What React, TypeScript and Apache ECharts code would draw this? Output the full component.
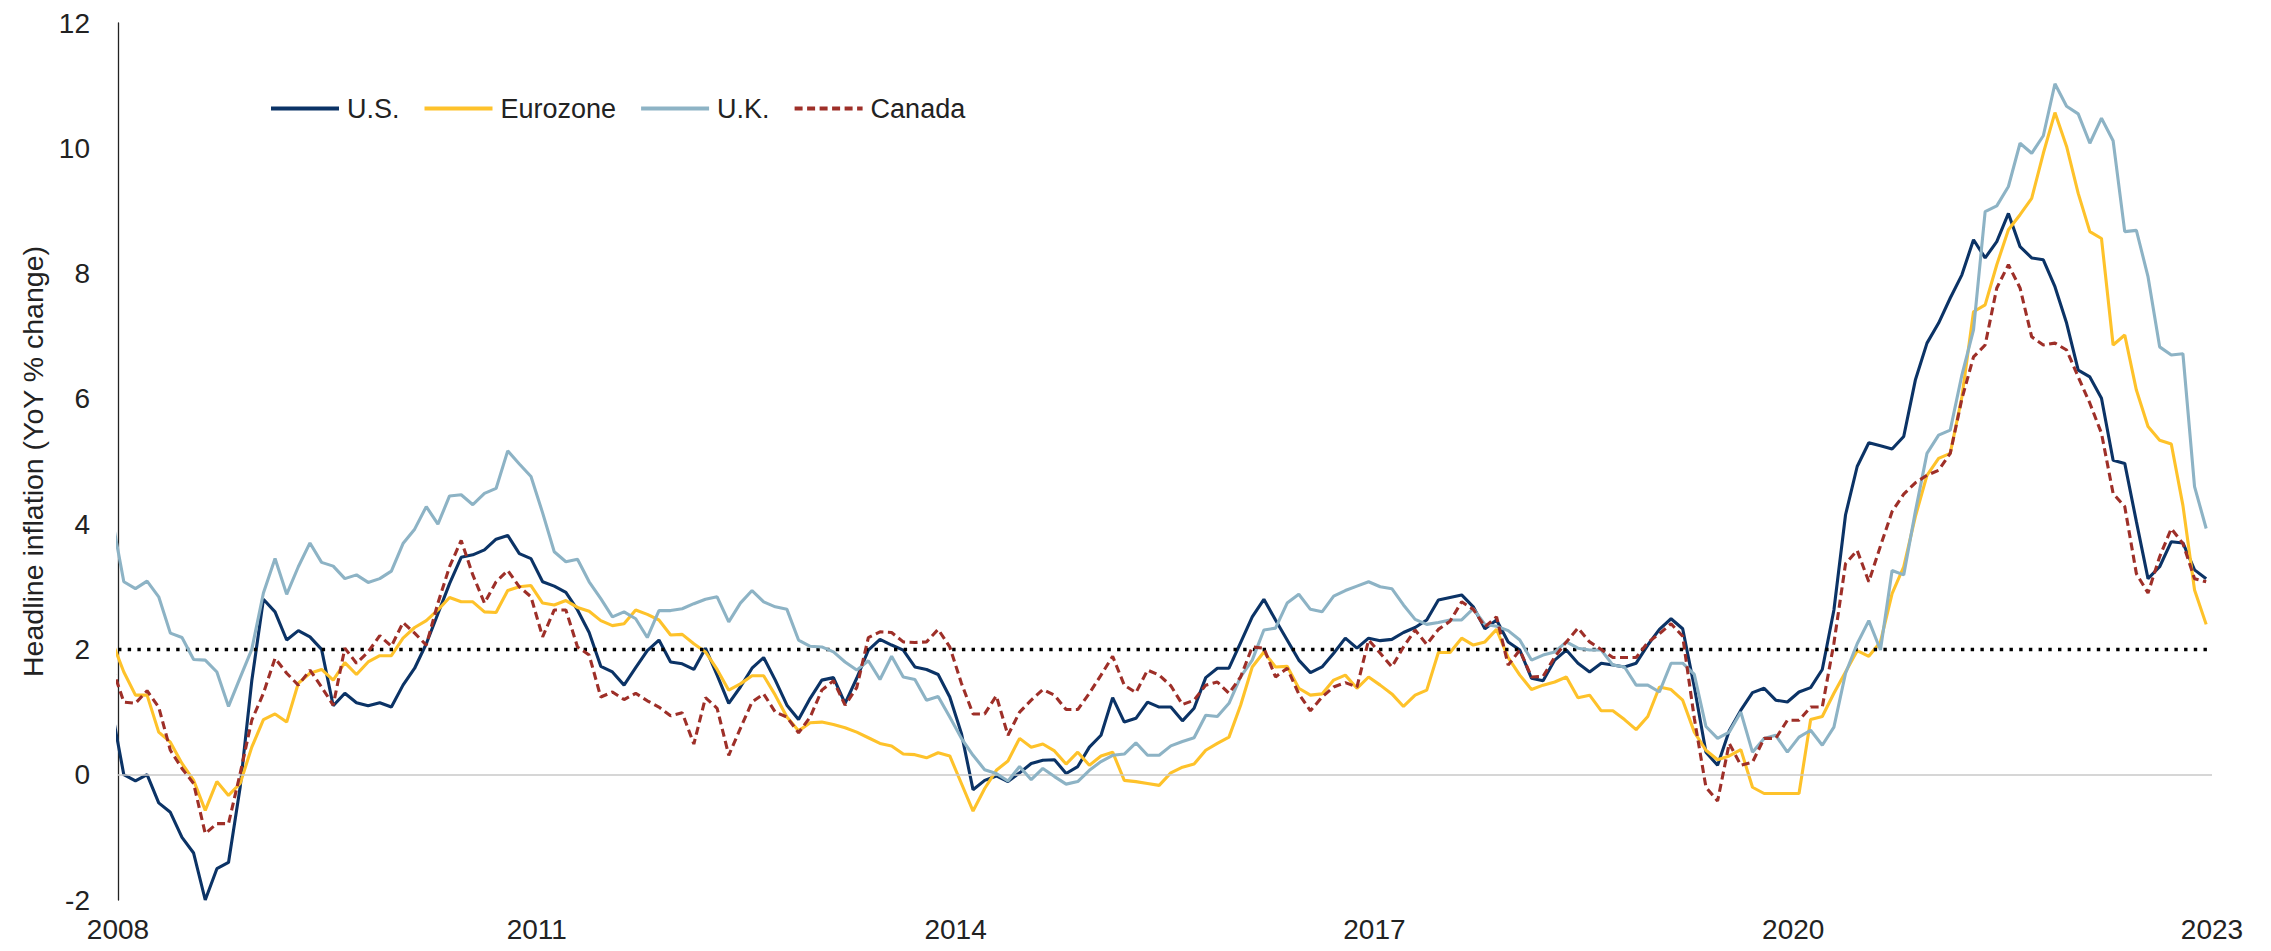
import React, { useEffect, useRef } from 'react';
import * as echarts from 'echarts';

// Month index: 0 = Nov 2008 (just left of the axis), 180 = Nov 2023
const yearTicks = ['2008', '2011', '2014', '2017', '2020', '2023'];
const monthsPerTick = 36;
const seriesNames = ['U.S.', 'Eurozone', 'U.K.', 'Canada'];
const targetRate = 2;

const usCPI = [
  1.0, 0.0,
  -0.1, 0.0, -0.45, -0.6, -1.0, -1.25, -2.0, -1.5, -1.4, -0.2, 1.5, 2.8,
  2.6, 2.15, 2.3, 2.2, 2.0, 1.1, 1.3, 1.15, 1.1, 1.15, 1.08, 1.43,
  1.7, 2.09, 2.57, 3.05, 3.47, 3.51, 3.59, 3.76, 3.82, 3.53, 3.45, 3.08,
  3.01, 2.91, 2.63, 2.27, 1.73, 1.64, 1.43, 1.71, 1.98, 2.15, 1.8, 1.77,
  1.68, 2.02, 1.59, 1.14, 1.4, 1.7, 1.87, 1.51, 1.11, 0.88, 1.22, 1.51,
  1.55, 1.14, 1.54, 1.99, 2.16, 2.07, 1.99, 1.72, 1.68, 1.6, 1.24, 0.66,
  -0.24, -0.09, -0.02, -0.11, 0.03, 0.18, 0.23, 0.24, 0.02, 0.13, 0.44, 0.63,
  1.23, 0.84, 0.9, 1.16, 1.08, 1.08, 0.86, 1.06, 1.55, 1.7, 1.7, 2.11,
  2.52, 2.8, 2.47, 2.15, 1.83, 1.63, 1.72, 1.94, 2.18, 2.02, 2.18, 2.14,
  2.16, 2.27, 2.35, 2.47, 2.79, 2.83, 2.87, 2.68, 2.33, 2.47, 2.12, 1.99,
  1.54, 1.5, 1.83, 1.99, 1.78, 1.64, 1.78, 1.75, 1.72, 1.78, 2.07, 2.32,
  2.49, 2.33, 1.4, 0.36, 0.15, 0.7, 1.03, 1.31, 1.38, 1.19, 1.16, 1.32,
  1.39, 1.68, 2.63, 4.15, 4.92, 5.3, 5.25, 5.2, 5.4, 6.3, 6.89, 7.21,
  7.61, 7.98, 8.54, 8.25, 8.51, 8.96, 8.43, 8.25, 8.22, 7.79, 7.21, 6.46,
  6.35, 6.01, 5.02, 4.97, 4.04, 3.13, 3.32, 3.72, 3.7, 3.27, 3.13,
];

const ezCPI = [
  2.12, 1.64,
  1.27, 1.27, 0.68, 0.52, 0.18, -0.09, -0.57, -0.11, -0.33, -0.14, 0.44, 0.88,
  0.97, 0.84, 1.46, 1.62, 1.68, 1.51, 1.79, 1.6, 1.8, 1.9, 1.9, 2.18,
  2.35, 2.46, 2.63, 2.83, 2.76, 2.76, 2.6, 2.59, 2.94, 3.0, 3.02, 2.74,
  2.71, 2.78, 2.67, 2.61, 2.46, 2.38, 2.41, 2.63, 2.56, 2.47, 2.23, 2.24,
  2.09, 1.96, 1.68, 1.35, 1.45, 1.58, 1.58, 1.27, 0.92, 0.7, 0.83, 0.84,
  0.8, 0.75, 0.68, 0.59, 0.5, 0.46, 0.33, 0.32, 0.27, 0.35, 0.3, -0.14,
  -0.58, -0.22, 0.07, 0.22, 0.58, 0.44, 0.49, 0.38, 0.17, 0.36, 0.15, 0.3,
  0.36, -0.09, -0.11, -0.14, -0.17, 0.03, 0.12, 0.17, 0.39, 0.5, 0.6, 1.11,
  1.72, 1.96, 1.72, 1.73, 1.38, 1.27, 1.29, 1.51, 1.59, 1.38, 1.56, 1.43,
  1.29, 1.09, 1.27, 1.35, 1.95, 1.95, 2.18, 2.07, 2.12, 2.32, 1.87, 1.59,
  1.36, 1.43, 1.48, 1.56, 1.23, 1.27, 1.02, 1.02, 0.88, 0.72, 0.93, 1.4,
  1.36, 1.19, 0.68, 0.39, 0.24, 0.3, 0.4, -0.2, -0.3, -0.3, -0.3, -0.3,
  0.88, 0.93, 1.3, 1.64, 1.98, 1.89, 2.12, 2.89, 3.32, 4.12, 4.78, 5.05,
  5.13, 6.03, 7.39, 7.5, 8.14, 8.7, 8.94, 9.2, 9.92, 10.57, 10.03, 9.28,
  8.67, 8.56, 6.86, 7.02, 6.14, 5.56, 5.34, 5.28, 4.3, 2.95, 2.4,
];

const ukCPI = [
  4.08, 3.08,
  2.97, 3.09, 2.84, 2.26, 2.19, 1.84, 1.83, 1.64, 1.09, 1.55, 2.0, 2.9,
  3.45, 2.88, 3.32, 3.7, 3.39, 3.33, 3.13, 3.19, 3.07, 3.13, 3.25, 3.69,
  3.92, 4.28, 4.0, 4.45, 4.47, 4.31, 4.49, 4.57, 5.17, 4.96, 4.76, 4.18,
  3.56, 3.4, 3.44, 3.08, 2.81, 2.52, 2.6, 2.49, 2.19, 2.62, 2.62, 2.65,
  2.73, 2.8, 2.84, 2.44, 2.74, 2.94, 2.76, 2.68, 2.64, 2.15, 2.05, 2.04,
  1.96, 1.8, 1.67, 1.82, 1.52, 1.89, 1.56, 1.52, 1.19, 1.25, 0.92, 0.58,
  0.31, 0.08, 0.02, -0.1, 0.13, -0.08, 0.1, -0.03, -0.15, -0.11, 0.07, 0.21,
  0.31, 0.33, 0.51, 0.31, 0.31, 0.46, 0.53, 0.59, 0.95, 0.93, 1.14, 1.56,
  1.83, 2.31, 2.34, 2.74, 2.88, 2.64, 2.6, 2.85, 2.94, 3.01, 3.08, 3.0,
  2.97, 2.71, 2.48, 2.4, 2.43, 2.47, 2.47, 2.65, 2.4, 2.37, 2.3, 2.15,
  1.83, 1.91, 1.96, 2.12, 2.02, 1.99, 1.99, 1.75, 1.72, 1.43, 1.43, 1.32,
  1.78, 1.78, 1.6, 0.77, 0.58, 0.68, 1.0, 0.36, 0.58, 0.63, 0.36, 0.6,
  0.71, 0.47, 0.76, 1.62, 2.09, 2.46, 1.99, 3.26, 3.19, 4.2, 5.13, 5.42,
  5.5, 6.38, 7.1, 8.99, 9.08, 9.39, 10.08, 9.92, 10.2, 11.03, 10.67, 10.55,
  10.08, 10.48, 10.12, 8.67, 8.69, 7.95, 6.83, 6.7, 6.72, 4.6, 3.93,
];

const caCPI = [
  1.71, 1.16,
  1.14, 1.34, 1.08, 0.39, 0.1, -0.14, -0.94, -0.78, -0.78, 0.02, 0.87, 1.3,
  1.86, 1.62, 1.43, 1.67, 1.4, 1.11, 2.02, 1.78, 1.96, 2.22, 2.05, 2.43,
  2.26, 2.07, 2.74, 3.32, 3.74, 3.19, 2.74, 3.08, 3.26, 3.0, 2.84, 2.2,
  2.63, 2.63, 2.04, 1.91, 1.24, 1.32, 1.2, 1.3, 1.18, 1.08, 0.94, 0.99,
  0.49, 1.23, 1.06, 0.31, 0.74, 1.16, 1.29, 1.0, 0.92, 0.67, 0.92, 1.35,
  1.5, 1.11, 1.39, 2.19, 2.28, 2.27, 2.12, 2.11, 2.12, 2.32, 2.04, 1.46,
  0.97, 0.97, 1.26, 0.63, 1.0, 1.19, 1.36, 1.27, 1.04, 1.04, 1.3, 1.59,
  1.89, 1.43, 1.31, 1.67, 1.59, 1.42, 1.12, 1.19, 1.43, 1.48, 1.3, 1.56,
  2.04, 2.02, 1.56, 1.7, 1.29, 1.02, 1.24, 1.4, 1.47, 1.4, 2.15, 1.94,
  1.72, 2.04, 2.31, 2.08, 2.32, 2.45, 2.76, 2.64, 2.36, 2.52, 1.75, 1.99,
  1.56, 1.57, 1.88, 2.12, 2.34, 2.12, 2.0, 1.87, 1.87, 1.87, 2.11, 2.25,
  2.41, 2.21, 0.9, -0.2, -0.42, 0.5, 0.15, 0.2, 0.58, 0.58, 0.87, 0.87,
  1.08, 1.08, 2.1, 3.37, 3.58, 3.08, 3.65, 4.2, 4.48, 4.66, 4.78, 4.86,
  5.13, 6.0, 6.67, 6.86, 7.77, 8.14, 7.77, 6.99, 6.86, 6.89, 6.78, 6.35,
  5.93, 5.45, 4.49, 4.28, 3.21, 2.9, 3.48, 3.93, 3.69, 3.13, 3.08,
];

const seriesValues = [usCPI, ezCPI, ukCPI, caCPI];
const seriesColors = ['#0b3366', '#fec22a', '#8db3c5', '#9e2f28'];

export default function App() {
  const ref = useRef<HTMLDivElement>(null);

  useEffect(() => {
    document.body.style.margin = '0';
    const chart = echarts.init(ref.current as HTMLDivElement, null, { renderer: 'svg' });
    const toPoints = (arr: number[]) => arr.map((v, i) => [i - 0.5, v]);
    const font = 'Liberation Sans, Arial, sans-serif';

    const series: any[] = seriesNames.map((name, idx) => ({
      name,
      type: 'line',
      data: toPoints(seriesValues[idx]),
      symbol: 'none',
      showSymbol: false,
      clip: true,
      emphasis: { disabled: true },
      lineStyle: {
        color: seriesColors[idx],
        width: 3.1,
        type: idx === 3 ? [8, 4.5] : 'solid',
      },
      itemStyle: { color: seriesColors[idx] },
      z: 3 + idx,
    }));

    series[0].markLine = {
      silent: true,
      symbol: 'none',
      label: { show: false },
      emphasis: { disabled: true },
      data: [
        { yAxis: 0, lineStyle: { color: '#c8c8c8', width: 1.5, type: 'solid' } },
        { yAxis: targetRate, lineStyle: { color: '#000', width: 3.4, type: [3.4, 6.3] } },
      ],
    };

    chart.setOption({
      animation: false,
      backgroundColor: '#ffffff',
      textStyle: { fontFamily: font },
      grid: { left: 118, right: 59, top: 23, bottom: 51, containLabel: false },
      legend: {
        data: seriesNames,
        left: 264,
        top: 90,
        itemWidth: 68,
        itemHeight: 14,
        itemGap: 23,
        itemStyle: { opacity: 0 },
        lineStyle: { width: 4 },
        textStyle: { fontSize: 27, color: '#222', fontFamily: font, padding: [0, 0, 0, 3] },
      },
      xAxis: {
        type: 'value',
        min: 0,
        max: yearTicks.length * monthsPerTick - monthsPerTick,
        interval: monthsPerTick,
        axisLine: { show: false },
        axisTick: { show: false },
        splitLine: { show: false },
        axisLabel: {
          formatter: (v: number) => yearTicks[Math.round(v / monthsPerTick)],
          fontSize: 28,
          color: '#222',
          margin: 15,
          fontFamily: font,
        },
      },
      yAxis: {
        type: 'value',
        min: -2,
        max: 12,
        interval: 2,
        name: 'Headline inflation (YoY % change)',
        nameLocation: 'middle',
        nameGap: 61,
        nameTextStyle: { fontSize: 28.5, color: '#222', fontFamily: font },
        axisLine: { show: true, onZero: false, lineStyle: { color: '#222', width: 1.3 } },
        axisTick: { show: false },
        splitLine: { show: false },
        axisLabel: { fontSize: 28, color: '#222', margin: 28, fontFamily: font },
      },
      series,
    });

    return () => chart.dispose();
  }, []);

  return <div ref={ref} style={{ width: 2271, height: 951 }} />;
}
